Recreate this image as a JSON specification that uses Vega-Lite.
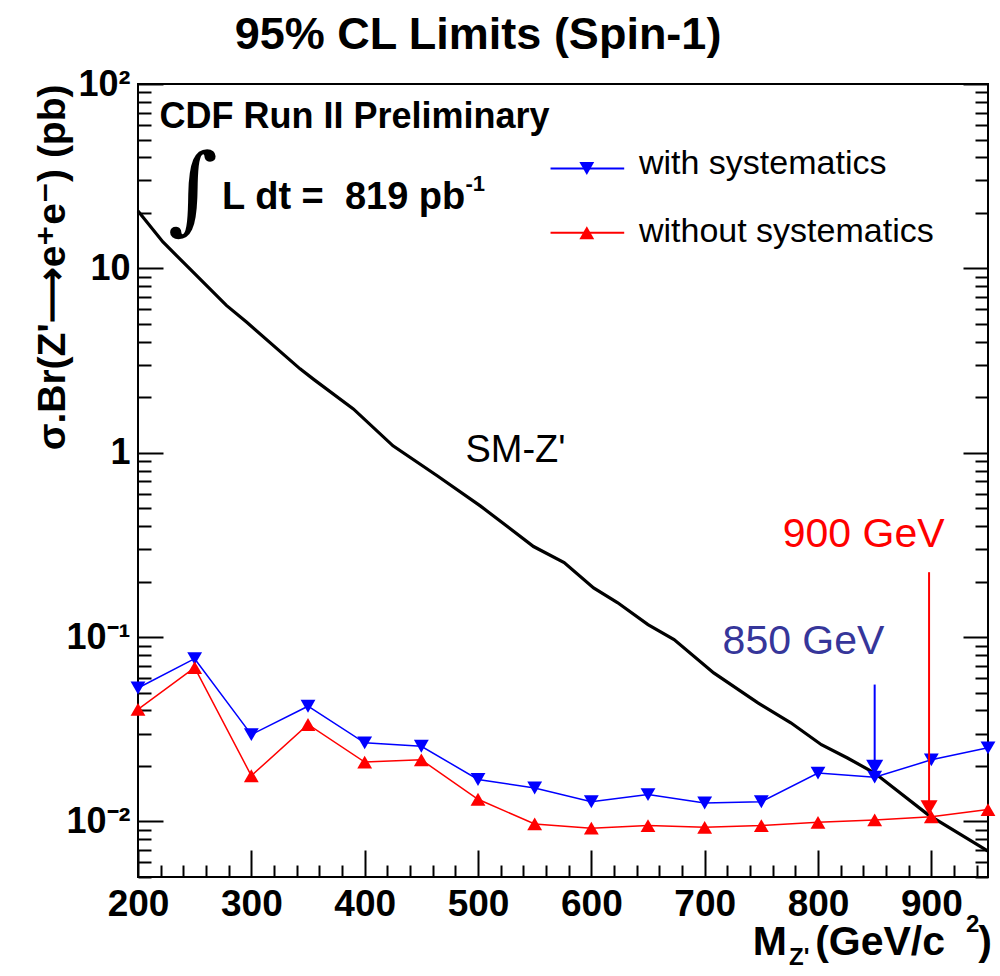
{
  "$schema": "https://vega.github.io/schema/vega-lite/v6.json",
  "width": 850,
  "height": 793,
  "autosize": {"type": "none"},
  "padding": {"left": 138, "top": 84, "right": 12, "bottom": 99},
  "background": "white",
  "config": {"view": {"stroke": "black", "strokeWidth": 2}, "font": "Liberation Sans"},
  "title": {"text": "95% CL Limits (Spin-1)", "fontSize": 45, "fontWeight": "bold", "font": "Liberation Sans", "anchor": "middle", "dx": -85, "frame": "group", "baseline": "alphabetic", "offset": -28, "color": "black"},
  "datasets": {
    "sm": [
      {"mass": 200, "xsec": 20.5}, {"mass": 222, "xsec": 13.9}, {"mass": 246, "xsec": 9.9}, {"mass": 278, "xsec": 6.3},
      {"mass": 296, "xsec": 5.1}, {"mass": 343, "xsec": 2.85}, {"mass": 355, "xsec": 2.5}, {"mass": 390, "xsec": 1.73},
      {"mass": 425, "xsec": 1.09}, {"mass": 464, "xsec": 0.75}, {"mass": 502, "xsec": 0.515}, {"mass": 549, "xsec": 0.31},
      {"mass": 576, "xsec": 0.254}, {"mass": 602, "xsec": 0.185}, {"mass": 623, "xsec": 0.154}, {"mass": 650, "xsec": 0.117},
      {"mass": 673, "xsec": 0.097}, {"mass": 708, "xsec": 0.064}, {"mass": 747, "xsec": 0.044}, {"mass": 776, "xsec": 0.0343},
      {"mass": 803, "xsec": 0.0261}, {"mass": 826, "xsec": 0.0221}, {"mass": 850, "xsec": 0.0183}, {"mass": 897, "xsec": 0.0109},
      {"mass": 950, "xsec": 0.0069}
    ],
    "limits": [
      {"mass": 200, "series": "with", "limit": 0.053}, {"mass": 250, "series": "with", "limit": 0.0764},
      {"mass": 300, "series": "with", "limit": 0.0296}, {"mass": 350, "series": "with", "limit": 0.0422},
      {"mass": 400, "series": "with", "limit": 0.0267}, {"mass": 450, "series": "with", "limit": 0.0256},
      {"mass": 500, "series": "with", "limit": 0.0169}, {"mass": 550, "series": "with", "limit": 0.0152},
      {"mass": 600, "series": "with", "limit": 0.0128}, {"mass": 650, "series": "with", "limit": 0.014},
      {"mass": 700, "series": "with", "limit": 0.0126}, {"mass": 750, "series": "with", "limit": 0.0128},
      {"mass": 800, "series": "with", "limit": 0.0183}, {"mass": 850, "series": "with", "limit": 0.0174},
      {"mass": 900, "series": "with", "limit": 0.0216}, {"mass": 950, "series": "with", "limit": 0.0251},
      {"mass": 200, "series": "without", "limit": 0.0406}, {"mass": 250, "series": "without", "limit": 0.0683},
      {"mass": 300, "series": "without", "limit": 0.0177}, {"mass": 350, "series": "without", "limit": 0.0336},
      {"mass": 400, "series": "without", "limit": 0.021}, {"mass": 450, "series": "without", "limit": 0.0216},
      {"mass": 500, "series": "without", "limit": 0.0132}, {"mass": 550, "series": "without", "limit": 0.0097},
      {"mass": 600, "series": "without", "limit": 0.0092}, {"mass": 650, "series": "without", "limit": 0.0095},
      {"mass": 700, "series": "without", "limit": 0.0093}, {"mass": 750, "series": "without", "limit": 0.0095},
      {"mass": 800, "series": "without", "limit": 0.0099}, {"mass": 850, "series": "without", "limit": 0.0102},
      {"mass": 900, "series": "without", "limit": 0.0106}, {"mass": 950, "series": "without", "limit": 0.0116}
    ],
    "arrows": [
      {"mass": 850, "series": "with", "top": 0.0553, "head": 0.0197},
      {"mass": 898, "series": "without", "top": 0.225, "head": 0.0119}
    ]
  },
  "layer": [
    {
      "data": {"name": "sm"},
      "mark": {"type": "line", "color": "black", "strokeWidth": 3.2},
      "encoding": {
        "x": {"field": "mass", "type": "quantitative", "scale": {"domain": [200, 950], "nice": false, "zero": false},
          "axis": {"title": null, "domain": false, "grid": false, "orient": "bottom",
            "values": [200,220,240,260,280,300,320,340,360,380,400,420,440,460,480,500,520,540,560,580,600,620,640,660,680,700,720,740,760,780,800,820,840,860,880,900,920,940],
            "tickSize": {"condition": {"test": "datum.value % 100 === 0", "value": -27}, "value": -12},
            "tickWidth": 2, "tickColor": "black",
            "labelExpr": "datum.value % 100 === 0 ? format(datum.value, 'd') : ''",
            "labelFont": "Liberation Sans", "labelFontWeight": "bold", "labelFontSize": 37, "labelColor": "black",
            "labelPadding": 36, "labelFlush": false, "labelOverlap": false, "labelBaseline": "top"}},
        "y": {"field": "xsec", "type": "quantitative", "scale": {"type": "log", "domain": [0.005, 100], "nice": false},
          "axis": {"title": "σ.Br(Z'⟶e⁺e⁻) (pb)", "titleFont": "Liberation Sans", "titleFontSize": 39, "titleFontWeight": "bold", "titleColor": "black",
            "titleAnchor": "end", "titlePadding": -7,
            "domain": false, "grid": false, "orient": "left",
            "values": [0.005,0.006,0.007,0.008,0.009,0.01,0.02,0.03,0.04,0.05,0.06,0.07,0.08,0.09,0.1,0.2,0.3,0.4,0.5,0.6,0.7,0.8,0.9,1,2,3,4,5,6,7,8,9,10,20,30,40,50,60,70,80,90,100],
            "tickSize": {"condition": {"test": "abs(log(datum.value)/LN10 - round(log(datum.value)/LN10)) < 0.000001", "value": -25}, "value": -13},
            "tickWidth": 2, "tickColor": "black",
            "labelExpr": "abs(datum.value - 100) < 0.001 ? '10²' : abs(datum.value - 10) < 0.0001 ? '10' : abs(datum.value - 1) < 0.00001 ? '1' : abs(datum.value - 0.1) < 0.000001 ? '10⁻¹' : abs(datum.value - 0.01) < 0.0000001 ? '10⁻²' : ''",
            "labelFont": "Liberation Sans", "labelFontWeight": "bold", "labelFontSize": 36, "labelColor": "black",
            "labelPadding": 33, "labelFlush": false, "labelOverlap": false, "labelBaseline": "middle"}}
      }
    },
    {
      "data": {"name": "limits"},
      "transform": [{"filter": "datum.series === 'with'"}],
      "mark": {"type": "line", "color": "#0000ff", "strokeWidth": 1.5,
        "point": {"shape": "triangle-down", "size": 220, "filled": true, "color": "#0000ff", "opacity": 1}},
      "encoding": {
        "x": {"field": "mass", "type": "quantitative", "axis": null},
        "y": {"field": "limit", "type": "quantitative", "axis": null}
      }
    },
    {
      "data": {"name": "limits"},
      "transform": [{"filter": "datum.series === 'without'"}],
      "mark": {"type": "line", "color": "#ff0000", "strokeWidth": 1.5,
        "point": {"shape": "triangle-up", "size": 220, "filled": true, "color": "#ff0000", "opacity": 1}},
      "encoding": {
        "x": {"field": "mass", "type": "quantitative", "axis": null},
        "y": {"field": "limit", "type": "quantitative", "axis": null}
      }
    },
    {
      "data": {"name": "arrows"},
      "mark": {"type": "rule", "strokeWidth": 2},
      "encoding": {
        "x": {"field": "mass", "type": "quantitative", "axis": null},
        "y": {"field": "top", "type": "quantitative", "axis": null},
        "y2": {"field": "head"},
        "color": {"field": "series", "type": "nominal", "scale": {"domain": ["with", "without"], "range": ["#0000ff", "#ff0000"]}, "legend": null}
      }
    },
    {
      "data": {"name": "arrows"},
      "mark": {"type": "point", "shape": "triangle-down", "size": 290, "filled": true, "opacity": 1},
      "encoding": {
        "x": {"field": "mass", "type": "quantitative", "axis": null},
        "y": {"field": "head", "type": "quantitative", "axis": null},
        "color": {"field": "series", "type": "nominal", "legend": null}
      }
    },
    {
      "data": {"values": [{}]},
      "mark": {"type": "text", "text": "CDF Run II Preliminary", "align": "left", "baseline": "alphabetic", "fontSize": 36, "fontWeight": "bold", "font": "Liberation Sans", "color": "black"},
      "encoding": {"x": {"datum": 219, "axis": null}, "y": {"datum": 58, "axis": null}}
    },
    {
      "data": {"values": [{}]},
      "mark": {"type": "text", "text": "∫", "align": "center", "baseline": "middle", "fontSize": 96, "font": "DejaVu Serif", "color": "black"},
      "encoding": {"x": {"datum": 248.5, "axis": null}, "y": {"datum": 25.5, "axis": null}}
    },
    {
      "data": {"values": [{}]},
      "mark": {"type": "text", "text": "L dt =\u00a0\u00a0819 pb", "align": "left", "baseline": "alphabetic", "fontSize": 38, "fontWeight": "bold", "font": "Liberation Sans", "color": "black"},
      "encoding": {"x": {"datum": 274.2, "axis": null}, "y": {"datum": 20.9, "axis": null}}
    },
    {
      "data": {"values": [{}]},
      "mark": {"type": "text", "text": "-1", "align": "left", "baseline": "alphabetic", "fontSize": 22, "fontWeight": "bold", "font": "Liberation Sans", "color": "black"},
      "encoding": {"x": {"datum": 489, "axis": null}, "y": {"datum": 26.4, "axis": null}}
    },
    {
      "data": {"values": [{"x1": 564, "x2": 629, "y": 34.8, "series": "with"}, {"x1": 564, "x2": 629, "y": 15.6, "series": "without"}]},
      "mark": {"type": "rule", "strokeWidth": 2},
      "encoding": {
        "x": {"field": "x1", "type": "quantitative", "axis": null},
        "x2": {"field": "x2"},
        "y": {"field": "y", "type": "quantitative", "axis": null},
        "color": {"field": "series", "type": "nominal", "legend": null}
      }
    },
    {
      "data": {"values": [{"x": 596, "y": 34.8, "series": "with"}]},
      "mark": {"type": "point", "shape": "triangle-down", "size": 220, "filled": true, "opacity": 1, "color": "#0000ff"},
      "encoding": {"x": {"field": "x", "type": "quantitative", "axis": null}, "y": {"field": "y", "type": "quantitative", "axis": null}}
    },
    {
      "data": {"values": [{"x": 596, "y": 15.6, "series": "without"}]},
      "mark": {"type": "point", "shape": "triangle-up", "size": 220, "filled": true, "opacity": 1, "color": "#ff0000"},
      "encoding": {"x": {"field": "x", "type": "quantitative", "axis": null}, "y": {"field": "y", "type": "quantitative", "axis": null}}
    },
    {
      "data": {"values": [{"x": 642, "y": 32.5, "label": "with systematics"}, {"x": 642, "y": 13.9, "label": "without systematics"}]},
      "mark": {"type": "text", "align": "left", "baseline": "alphabetic", "fontSize": 34, "font": "Liberation Sans", "color": "black"},
      "encoding": {"x": {"field": "x", "type": "quantitative", "axis": null}, "y": {"field": "y", "type": "quantitative", "axis": null}, "text": {"field": "label"}}
    },
    {
      "data": {"values": [{}]},
      "mark": {"type": "text", "text": "SM-Z'", "align": "left", "baseline": "alphabetic", "fontSize": 38, "font": "Liberation Sans", "color": "black"},
      "encoding": {"x": {"datum": 488.9, "axis": null}, "y": {"datum": 0.887, "axis": null}}
    },
    {
      "data": {"values": [{}]},
      "mark": {"type": "text", "text": "900 GeV", "align": "left", "baseline": "alphabetic", "fontSize": 41, "font": "Liberation Sans", "color": "#ff0000"},
      "encoding": {"x": {"datum": 768.9, "axis": null}, "y": {"datum": 0.3076, "axis": null}}
    },
    {
      "data": {"values": [{}]},
      "mark": {"type": "text", "text": "850 GeV", "align": "left", "baseline": "alphabetic", "fontSize": 41, "font": "Liberation Sans", "color": "#36369a"},
      "encoding": {"x": {"datum": 715.8, "axis": null}, "y": {"datum": 0.0805, "axis": null}}
    },
    {
      "data": {"values": [{"x": 742.5, "y": 0.00189, "t": "M", "s": "big"}, {"x": 774.5, "y": 0.00166, "t": "Z'", "s": "small"}, {"x": 797.5, "y": 0.00189, "t": "(GeV/c", "s": "big"}, {"x": 930.5, "y": 0.00251, "t": "2", "s": "small"}, {"x": 941.5, "y": 0.00189, "t": ")", "s": "big"}]},
      "mark": {"type": "text", "align": "left", "baseline": "alphabetic", "fontWeight": "bold", "font": "Liberation Sans", "color": "black"},
      "encoding": {
        "x": {"field": "x", "type": "quantitative", "axis": null},
        "y": {"field": "y", "type": "quantitative", "axis": null},
        "text": {"field": "t"},
        "size": {"field": "s", "type": "nominal", "scale": {"domain": ["big", "small"], "range": [41, 24]}, "legend": null}
      }
    },
    {
      "data": {"name": "sm"},
      "mark": {"type": "line", "opacity": 0},
      "encoding": {
        "x": {"field": "mass", "type": "quantitative", "axis": null},
        "y": {"field": "xsec", "type": "quantitative",
          "axis": {"orient": "right", "labels": false, "title": null, "domain": false, "grid": false,
            "values": [0.005,0.006,0.007,0.008,0.009,0.01,0.02,0.03,0.04,0.05,0.06,0.07,0.08,0.09,0.1,0.2,0.3,0.4,0.5,0.6,0.7,0.8,0.9,1,2,3,4,5,6,7,8,9,10,20,30,40,50,60,70,80,90,100],
            "tickSize": {"condition": {"test": "abs(log(datum.value)/LN10 - round(log(datum.value)/LN10)) < 0.000001", "value": -25}, "value": -13},
            "tickWidth": 2, "tickColor": "black"}}
      }
    }
  ],
  "resolve": {"axis": {"x": "independent", "y": "independent"}}
}
